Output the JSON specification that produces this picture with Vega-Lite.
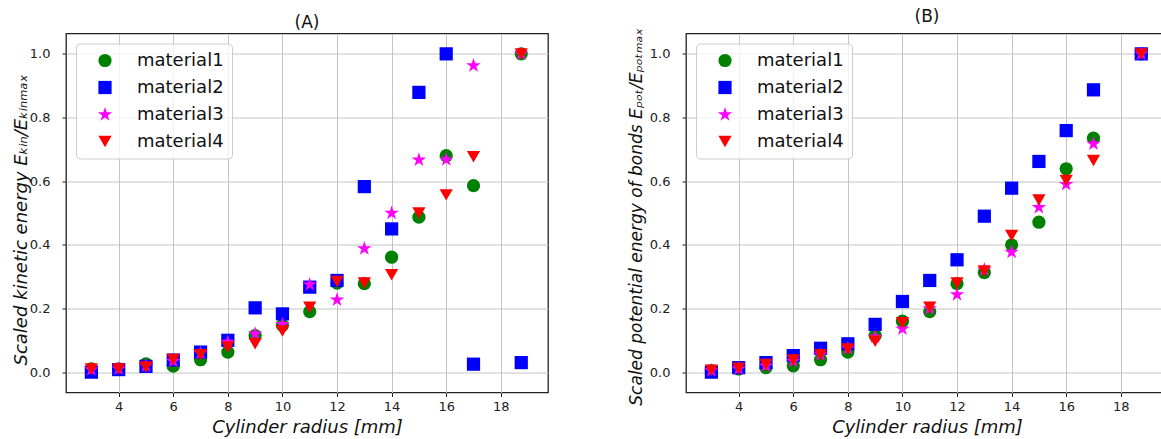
{
  "$schema": "https://vega.github.io/schema/vega-lite/v6.json",
  "background": "white",
  "padding": {"left": 11, "top": 6.5, "right": 0, "bottom": 0},
  "spacing": 138,
  "bounds": "flush",
  "resolve": {"legend": {"color": "independent", "shape": "independent"}},
  "datasets": {
    "kin": [
      {"r": 3, "v": 0.01, "material": "material1"},
      {"r": 4, "v": 0.01, "material": "material1"},
      {"r": 5, "v": 0.026, "material": "material1"},
      {"r": 6, "v": 0.019, "material": "material1"},
      {"r": 7, "v": 0.039, "material": "material1"},
      {"r": 8, "v": 0.063, "material": "material1"},
      {"r": 9, "v": 0.115, "material": "material1"},
      {"r": 10, "v": 0.147, "material": "material1"},
      {"r": 11, "v": 0.19, "material": "material1"},
      {"r": 12, "v": 0.28, "material": "material1"},
      {"r": 13, "v": 0.278, "material": "material1"},
      {"r": 14, "v": 0.361, "material": "material1"},
      {"r": 15, "v": 0.487, "material": "material1"},
      {"r": 16, "v": 0.68, "material": "material1"},
      {"r": 17, "v": 0.586, "material": "material1"},
      {"r": 18.75, "v": 1.0, "material": "material1"},
      {"r": 3, "v": 0.0, "material": "material2"},
      {"r": 4, "v": 0.008, "material": "material2"},
      {"r": 5, "v": 0.018, "material": "material2"},
      {"r": 6, "v": 0.038, "material": "material2"},
      {"r": 7, "v": 0.063, "material": "material2"},
      {"r": 8, "v": 0.1, "material": "material2"},
      {"r": 9, "v": 0.202, "material": "material2"},
      {"r": 10, "v": 0.183, "material": "material2"},
      {"r": 11, "v": 0.267, "material": "material2"},
      {"r": 12, "v": 0.288, "material": "material2"},
      {"r": 13, "v": 0.583, "material": "material2"},
      {"r": 14, "v": 0.45, "material": "material2"},
      {"r": 15, "v": 0.879, "material": "material2"},
      {"r": 16, "v": 1.0, "material": "material2"},
      {"r": 17, "v": 0.025, "material": "material2"},
      {"r": 18.75, "v": 0.03, "material": "material2"},
      {"r": 3, "v": 0.008, "material": "material3"},
      {"r": 4, "v": 0.01, "material": "material3"},
      {"r": 5, "v": 0.02, "material": "material3"},
      {"r": 6, "v": 0.035, "material": "material3"},
      {"r": 7, "v": 0.06, "material": "material3"},
      {"r": 8, "v": 0.094, "material": "material3"},
      {"r": 9, "v": 0.12, "material": "material3"},
      {"r": 10, "v": 0.15, "material": "material3"},
      {"r": 11, "v": 0.275, "material": "material3"},
      {"r": 12, "v": 0.227, "material": "material3"},
      {"r": 13, "v": 0.388, "material": "material3"},
      {"r": 14, "v": 0.5, "material": "material3"},
      {"r": 15, "v": 0.667, "material": "material3"},
      {"r": 16, "v": 0.668, "material": "material3"},
      {"r": 17, "v": 0.963, "material": "material3"},
      {"r": 18.75, "v": 1.0, "material": "material3"},
      {"r": 3, "v": 0.01, "material": "material4"},
      {"r": 4, "v": 0.01, "material": "material4"},
      {"r": 5, "v": 0.016, "material": "material4"},
      {"r": 6, "v": 0.04, "material": "material4"},
      {"r": 7, "v": 0.055, "material": "material4"},
      {"r": 8, "v": 0.079, "material": "material4"},
      {"r": 9, "v": 0.089, "material": "material4"},
      {"r": 10, "v": 0.129, "material": "material4"},
      {"r": 11, "v": 0.204, "material": "material4"},
      {"r": 12, "v": 0.285, "material": "material4"},
      {"r": 13, "v": 0.28, "material": "material4"},
      {"r": 14, "v": 0.306, "material": "material4"},
      {"r": 15, "v": 0.5, "material": "material4"},
      {"r": 16, "v": 0.557, "material": "material4"},
      {"r": 17, "v": 0.677, "material": "material4"},
      {"r": 18.75, "v": 1.0, "material": "material4"}
    ],
    "pot": [
      {"r": 3, "v": 0.005, "material": "material1"},
      {"r": 4, "v": 0.01, "material": "material1"},
      {"r": 5, "v": 0.014, "material": "material1"},
      {"r": 6, "v": 0.02, "material": "material1"},
      {"r": 7, "v": 0.039, "material": "material1"},
      {"r": 8, "v": 0.063, "material": "material1"},
      {"r": 9, "v": 0.115, "material": "material1"},
      {"r": 10, "v": 0.16, "material": "material1"},
      {"r": 11, "v": 0.19, "material": "material1"},
      {"r": 12, "v": 0.278, "material": "material1"},
      {"r": 13, "v": 0.313, "material": "material1"},
      {"r": 14, "v": 0.4, "material": "material1"},
      {"r": 15, "v": 0.471, "material": "material1"},
      {"r": 16, "v": 0.639, "material": "material1"},
      {"r": 17, "v": 0.735, "material": "material1"},
      {"r": 18.75, "v": 1.0, "material": "material1"},
      {"r": 3, "v": 0.0, "material": "material2"},
      {"r": 4, "v": 0.014, "material": "material2"},
      {"r": 5, "v": 0.03, "material": "material2"},
      {"r": 6, "v": 0.052, "material": "material2"},
      {"r": 7, "v": 0.075, "material": "material2"},
      {"r": 8, "v": 0.089, "material": "material2"},
      {"r": 9, "v": 0.15, "material": "material2"},
      {"r": 10, "v": 0.222, "material": "material2"},
      {"r": 11, "v": 0.288, "material": "material2"},
      {"r": 12, "v": 0.353, "material": "material2"},
      {"r": 13, "v": 0.49, "material": "material2"},
      {"r": 14, "v": 0.578, "material": "material2"},
      {"r": 15, "v": 0.662, "material": "material2"},
      {"r": 16, "v": 0.759, "material": "material2"},
      {"r": 17, "v": 0.887, "material": "material2"},
      {"r": 18.75, "v": 1.0, "material": "material2"},
      {"r": 3, "v": 0.005, "material": "material3"},
      {"r": 4, "v": 0.01, "material": "material3"},
      {"r": 5, "v": 0.02, "material": "material3"},
      {"r": 6, "v": 0.035, "material": "material3"},
      {"r": 7, "v": 0.055, "material": "material3"},
      {"r": 8, "v": 0.075, "material": "material3"},
      {"r": 9, "v": 0.11, "material": "material3"},
      {"r": 10, "v": 0.136, "material": "material3"},
      {"r": 11, "v": 0.2, "material": "material3"},
      {"r": 12, "v": 0.244, "material": "material3"},
      {"r": 13, "v": 0.322, "material": "material3"},
      {"r": 14, "v": 0.377, "material": "material3"},
      {"r": 15, "v": 0.518, "material": "material3"},
      {"r": 16, "v": 0.59, "material": "material3"},
      {"r": 17, "v": 0.717, "material": "material3"},
      {"r": 18.75, "v": 1.0, "material": "material3"},
      {"r": 3, "v": 0.006, "material": "material4"},
      {"r": 4, "v": 0.012, "material": "material4"},
      {"r": 5, "v": 0.024, "material": "material4"},
      {"r": 6, "v": 0.038, "material": "material4"},
      {"r": 7, "v": 0.055, "material": "material4"},
      {"r": 8, "v": 0.073, "material": "material4"},
      {"r": 9, "v": 0.097, "material": "material4"},
      {"r": 10, "v": 0.155, "material": "material4"},
      {"r": 11, "v": 0.204, "material": "material4"},
      {"r": 12, "v": 0.28, "material": "material4"},
      {"r": 13, "v": 0.318, "material": "material4"},
      {"r": 14, "v": 0.429, "material": "material4"},
      {"r": 15, "v": 0.541, "material": "material4"},
      {"r": 16, "v": 0.602, "material": "material4"},
      {"r": 17, "v": 0.665, "material": "material4"},
      {"r": 18.75, "v": 1.0, "material": "material4"}
    ]
  },
  "config": {
    "font": "DejaVu Sans",
    "view": {"stroke": "#222222", "strokeWidth": 1.3},
    "title": {"fontSize": 17, "fontWeight": "normal", "font": "DejaVu Sans", "color": "#111111", "offset": 2, "anchor": "middle"},
    "axis": {
      "domain": false,
      "grid": true,
      "gridColor": "#c4c4c4",
      "gridWidth": 1,
      "tickColor": "#222222",
      "tickSize": 4,
      "tickWidth": 1,
      "labelFont": "DejaVu Sans",
      "labelFontSize": 13,
      "labelColor": "#222222",
      "titleFont": "DejaVu Sans",
      "titleFontSize": 18,
      "titleFontStyle": "italic",
      "titleFontWeight": "normal",
      "titleColor": "#111111"
    },
    "axisX": {"labelPadding": 4, "titlePadding": 5},
    "axisY": {"labelPadding": 12},
    "legend": {
      "orient": "top-left",
      "offset": 10,
      "padding": 8,
      "rowPadding": 9,
      "symbolOffset": 12,
      "labelOffset": 23,
      "labelFont": "DejaVu Sans",
      "labelFontSize": 18,
      "labelColor": "#111111",
      "symbolSize": 175,
      "symbolStrokeWidth": 0,
      "strokeColor": "#cccccc",
      "fillColor": "rgba(255,255,255,0.8)",
      "cornerRadius": 4
    },
    "point": {"filled": true, "opacity": 1, "size": 175, "strokeWidth": 0}
  },
  "hconcat": [
    {
      "title": "(A)",
      "width": 482,
      "height": 359,
      "data": {"name": "kin"},
      "mark": {"type": "point", "filled": true, "opacity": 1, "size": 175},
      "encoding": {
        "x": {
          "field": "r", "type": "quantitative",
          "scale": {"domain": [2.07, 19.73], "nice": false, "zero": false},
          "axis": {"values": [4, 6, 8, 10, 12, 14, 16, 18], "title": "Cylinder radius [mm]"}
        },
        "y": {
          "field": "v", "type": "quantitative",
          "scale": {"domain": [-0.064, 1.064], "nice": false, "zero": false},
          "axis": {"values": [0, 0.2, 0.4, 0.6, 0.8, 1.0], "format": ".1f", "title": "Scaled kinetic energy Eₖᵢₙ/Eₖᵢₙₘₐₓ", "titleX": -45, "titleY": 186, "titleBaseline": "middle", "titleAngle": 270}
        },
        "color": {
          "field": "material", "type": "nominal", "title": null,
          "scale": {"domain": ["material1", "material2", "material3", "material4"], "range": ["#008000", "#0000ff", "#ff00ff", "#ff0000"]}
        },
        "shape": {
          "field": "material", "type": "nominal", "title": null,
          "scale": {"domain": ["material1", "material2", "material3", "material4"], "range": ["circle", "square", "M0,-1.15L0.26,-0.355L1.094,-0.355L0.417,0.136L0.676,0.93L0,0.439L-0.676,0.93L-0.417,0.136L-1.094,-0.355L-0.26,-0.355Z", "triangle-down"]}
        }
      }
    },
    {
      "title": "(B)",
      "width": 482,
      "height": 359,
      "data": {"name": "pot"},
      "mark": {"type": "point", "filled": true, "opacity": 1, "size": 175},
      "encoding": {
        "x": {
          "field": "r", "type": "quantitative",
          "scale": {"domain": [2.07, 19.73], "nice": false, "zero": false},
          "axis": {"values": [4, 6, 8, 10, 12, 14, 16, 18], "title": "Cylinder radius [mm]"}
        },
        "y": {
          "field": "v", "type": "quantitative",
          "scale": {"domain": [-0.064, 1.064], "nice": false, "zero": false},
          "axis": {"values": [0, 0.2, 0.4, 0.6, 0.8, 1.0], "format": ".1f", "title": "Scaled potential energy of bonds Eₚₒₜ/Eₚₒₜₘₐₓ", "titleX": -50, "titleY": 183, "titleFontSize": 17, "titleBaseline": "middle", "titleAngle": 270}
        },
        "color": {
          "field": "material", "type": "nominal", "title": null,
          "scale": {"domain": ["material1", "material2", "material3", "material4"], "range": ["#008000", "#0000ff", "#ff00ff", "#ff0000"]}
        },
        "shape": {
          "field": "material", "type": "nominal", "title": null,
          "scale": {"domain": ["material1", "material2", "material3", "material4"], "range": ["circle", "square", "M0,-1.15L0.26,-0.355L1.094,-0.355L0.417,0.136L0.676,0.93L0,0.439L-0.676,0.93L-0.417,0.136L-1.094,-0.355L-0.26,-0.355Z", "triangle-down"]}
        }
      }
    }
  ]
}
